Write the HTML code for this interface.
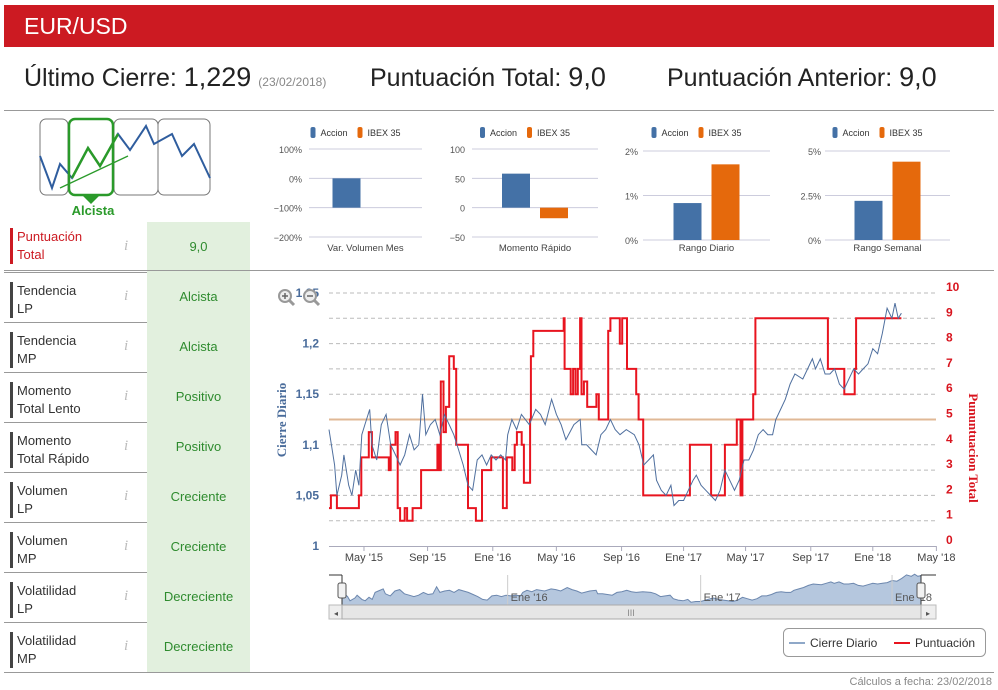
<!DOCTYPE html>
<html><head><meta charset="utf-8">
<style>
body{margin:0;width:998px;height:690px;background:#fff;font-family:"Liberation Sans",sans-serif;position:relative;overflow:hidden}
.abs{position:absolute}
.hdr{left:4px;top:5px;width:990px;height:42px;background:#cc1a22;color:#fff;font-size:23px;line-height:42px;padding-left:20px;box-sizing:border-box}
.big{top:62px;font-size:25px;color:#222;white-space:nowrap}
.big b{font-weight:normal;font-size:27px}
.row{left:4px;width:246px;height:50px;border-bottom:1px solid #999}
.row .lab{position:absolute;left:6px;top:10px;font-size:13px;line-height:18px;color:#333;border-left:3px solid #444;padding-left:4px;height:36px}
.row .inf{position:absolute;left:120px;top:16px;color:#bbb;font-style:italic;font-family:"Liberation Serif",serif;font-size:15px}
.row .val{position:absolute;left:143px;top:0;width:103px;height:50px;background:#e2f0de;color:#2e8b2e;font-size:13px;text-align:center;line-height:50px}
</style></head><body>
<div class="abs hdr">EUR/USD</div>
<div class="abs big" style="left:24px">Último Cierre: <b>1,229</b> <span style="font-size:12px;color:#888">(23/02/2018)</span></div>
<div class="abs big" style="left:370px">Puntuación Total: <b>9,0</b></div>
<div class="abs big" style="left:667px">Puntuación Anterior: <b>9,0</b></div>
<div class="abs" style="left:4px;top:110px;width:990px;height:1px;background:#999"></div>
<div class="abs" style="left:4px;top:672px;width:990px;height:1px;background:#999"></div>
<div class="abs" style="right:6px;top:676px;font-size:11px;color:#888">Cálculos a fecha: 23/02/2018</div>

<svg class="abs" style="left:38px;top:116px" width="176" height="104">
<rect x="2" y="3" width="28" height="76" rx="6" fill="#fff" stroke="#777"/>
<rect x="76" y="3" width="44" height="76" rx="6" fill="#fff" stroke="#777"/>
<rect x="120" y="3" width="52" height="76" rx="6" fill="#fff" stroke="#777"/>
<polyline points="2,40 14,72 22,48 34,62 50,32 62,50 80,18 92,34 108,10 116,28 134,18 144,40 156,28 172,62" fill="none" stroke="#2f5d9e" stroke-width="2"/>
<rect x="31" y="3" width="44" height="76" rx="6" fill="none" stroke="#2a9a2a" stroke-width="2.5"/>
<polyline points="34,62 50,32 62,50 80,18" fill="none" stroke="#2a9a2a" stroke-width="2.5"/>
<line x1="22" y1="72" x2="90" y2="40" stroke="#2a9a2a" stroke-width="1.3"/>
<path d="M44,79 L53,88 L62,79Z" fill="#2a9a2a"/>
<text x="55" y="99" text-anchor="middle" font-size="13" font-weight="bold" fill="#2a9a2a">Alcista</text>
</svg>

<div class="abs row" style="top:222px"><div class="lab" style="border-color:#cc1a22;color:#cc1a22;top:6px">Puntuación<br>Total</div><div class="inf">i</div><div class="val">9,0</div></div>
<div class="abs row" style="top:272px"><div class="lab">Tendencia<br>LP</div><div class="inf">i</div><div class="val">Alcista</div></div>
<div class="abs row" style="top:322px"><div class="lab">Tendencia<br>MP</div><div class="inf">i</div><div class="val">Alcista</div></div>
<div class="abs row" style="top:372px"><div class="lab">Momento<br>Total Lento</div><div class="inf">i</div><div class="val">Positivo</div></div>
<div class="abs row" style="top:422px"><div class="lab">Momento<br>Total Rápido</div><div class="inf">i</div><div class="val">Positivo</div></div>
<div class="abs row" style="top:472px"><div class="lab">Volumen<br>LP</div><div class="inf">i</div><div class="val">Creciente</div></div>
<div class="abs row" style="top:522px"><div class="lab">Volumen<br>MP</div><div class="inf">i</div><div class="val">Creciente</div></div>
<div class="abs row" style="top:572px"><div class="lab">Volatilidad<br>LP</div><div class="inf">i</div><div class="val">Decreciente</div></div>
<div class="abs row" style="top:622px;border-bottom:none"><div class="lab">Volatilidad<br>MP</div><div class="inf">i</div><div class="val">Decreciente</div></div>
<div class="abs" style="left:4px;top:270px;width:990px;height:1px;background:#999"></div>

<svg id="main" class="abs" style="left:0;top:0" width="998" height="690"></svg>

<script>
// ---- small bar charts data ----
const miniTitles = ["Var. Volumen Mes","Momento Rápido","Rango Diario","Rango Semanal"];
const miniAccion = [-100, 58, 0.83, 2.2];
const miniIbex = [0, -18, 1.7, 4.4];
const miniTicks1 = [100,0,-100,-200];
const miniTickLabels1 = ["100%","0%","\u2212100%","\u2212200%"];
const miniTicks2 = [100,50,0,-50];
const miniTickLabels2 = ["100","50","0","\u221250"];
const miniTicks3 = [2,1,0];
const miniTickLabels3 = ["2%","1%","0%"];
const miniTicks4 = [5,2.5,0];
const miniTickLabels4 = ["5%","2.5%","0%"];

// ---- main chart data (months since 23/02/2015) ----
const priceT = [0,.35,.5,.8,.94,1.24,1.44,1.68,1.88,2.06,2.26,2.56,2.7,3.0,3.29,3.59,3.88,4.18,4.47,4.76,5.06,5.35,5.65,5.88,6.09,6.38,6.68,6.97,7.26,7.56,7.85,8.15,8.44,8.74,9.03,9.32,9.62,9.91,10.2,10.5,10.8,11.1,11.24,11.5,11.8,12.1,12.6,13.0,13.3,13.6,14.0,14.3,14.6,14.9,15.4,15.8,15.9,16.2,16.5,16.8,17.1,17.4,17.7,18.0,18.3,18.7,19.2,19.5,19.8,20.1,20.4,20.6,20.9,21.2,21.5,21.7,22.0,22.3,22.6,22.9,23.1,23.4,23.7,24.0,24.3,24.6,24.9,25.2,25.5,25.8,26.1,26.4,26.7,27.0,27.3,27.6,27.9,28.1,28.4,28.7,29.0,29.3,29.8,30.1,30.4,30.6,30.9,31.2,31.5,31.8,32.1,32.4,32.7,33.0,33.3,33.6,33.9,34.2,34.5,34.8,35.1,35.4,35.6,35.8,36.0];
const priceV = [1.115,1.08,1.05,1.07,1.09,1.06,1.05,1.075,1.06,1.11,1.12,1.135,1.10,1.085,1.12,1.13,1.10,1.09,1.08,1.09,1.11,1.095,1.10,1.15,1.11,1.12,1.125,1.11,1.13,1.12,1.11,1.095,1.08,1.06,1.055,1.085,1.09,1.08,1.09,1.085,1.09,1.085,1.11,1.125,1.115,1.13,1.12,1.135,1.13,1.12,1.145,1.13,1.12,1.105,1.12,1.125,1.10,1.10,1.095,1.09,1.11,1.115,1.125,1.115,1.11,1.115,1.11,1.10,1.08,1.085,1.09,1.065,1.055,1.05,1.06,1.04,1.045,1.045,1.055,1.065,1.07,1.06,1.055,1.05,1.045,1.055,1.075,1.065,1.055,1.065,1.085,1.085,1.095,1.11,1.115,1.11,1.11,1.125,1.135,1.145,1.16,1.17,1.165,1.175,1.185,1.175,1.185,1.17,1.17,1.175,1.16,1.155,1.165,1.175,1.17,1.175,1.18,1.195,1.19,1.21,1.235,1.225,1.24,1.225,1.23];
const scoreT = [0,.12,.5,1.88,2.03,2.5,2.7,3.76,3.88,4.18,4.32,4.47,4.76,4.91,5.26,5.79,6.82,6.91,7.03,7.2,7.35,7.56,7.85,8.0,8.74,9.24,9.62,10.2,10.94,11.18,11.53,11.68,11.82,12.12,12.26,12.65,12.7,12.85,14.76,14.82,15.2,15.35,15.5,15.65,15.79,15.88,16.03,16.24,16.82,16.97,17.56,17.7,18.29,18.44,18.74,19.32,19.47,19.76,22.7,24.03,24.9,25.65,25.88,26.0,26.68,26.82,31.38,32.41,33.06,33.15,36.0];
const scoreV = [1.5,2,1.5,2,3.5,4.5,3.5,3,4,4.5,1.5,1,1.5,1,1.5,3,4,3,6.5,4.5,5.5,7.5,7,4,1.5,1,3,3.5,1.5,3.5,3,4,4.5,4,2.5,5,7.5,8.5,9,7,6,7,6,7,9,6,6.5,5.5,6,5,8.5,9,8,9,7,6,5,2,4,2,4,5,2,5,6,9,7,6,7,9,9];
const xTickT = [2.2,6.2,10.3,14.3,18.4,22.3,26.2,30.3,34.2,38.2];
const xTickLabels = ["May '15","Sep '15","Ene '16","May '16","Sep '16","Ene '17","May '17","Sep '17","Ene '18","May '18"];
const yTicks = [1,1.05,1.1,1.15,1.2,1.25];
const yTickLabels = ["1","1,05","1,1","1,15","1,2","1,25"];
const y2Ticks = [0,1,2,3,4,5,6,7,8,9,10];

const NS="http://www.w3.org/2000/svg";
const svg=document.getElementById('main');
function mk(tag,attrs,parent,txt){const e=document.createElementNS(NS,tag);for(const k in attrs)e.setAttribute(k,attrs[k]);if(txt!==undefined)e.textContent=txt;(parent||svg).appendChild(e);return e;}

// mini charts
const miniLayout=[{x0:309,x1:422,top:149,bot:237,ticks:miniTicks1,labs:miniTickLabels1,lx:302},
{x0:472,x1:598,top:149,bot:237,ticks:miniTicks2,labs:miniTickLabels2,lx:465},
{x0:643,x1:770,top:151,bot:240,ticks:miniTicks3,labs:miniTickLabels3,lx:638},
{x0:825,x1:950,top:151,bot:240,ticks:miniTicks4,labs:miniTickLabels4,lx:821}];
miniLayout.forEach((L,i)=>{
  const g=mk('g',{});
  
  
  const tmax=L.ticks[0],tmin=L.ticks[L.ticks.length-1];
  const ys=v=>L.top+(tmax-v)/(tmax-tmin)*(L.bot-L.top);
  L.ticks.forEach((t,k)=>{
    mk('line',{x1:L.x0,x2:L.x1,y1:ys(t),y2:ys(t),stroke:'#ccd',"stroke-width":1},g);
    const tx=mk('text',{x:L.lx,y:ys(t)+4,"text-anchor":"end","font-size":9,fill:'#555'},g,L.labs[k]);
    
    
  });
  const cx=(L.x0+L.x1)/2;
  const z=ys(0);
  const a=miniAccion[i], b=miniIbex[i];
  const r1=mk('rect',{x:cx-33,width:28,y:Math.min(ys(a),z),height:Math.abs(ys(a)-z),fill:'#4471a6'},g);
  
  
  const r2=mk('rect',{x:cx+5,width:28,y:Math.min(ys(b),z),height:Math.abs(ys(b)-z),fill:'#e5690c'},g);
  
  
  const tt=mk('text',{x:cx,y:251,"text-anchor":"middle","font-size":9.5,fill:'#444'},g,miniTitles[i]);
  
  
  const lg=mk('g',{},g);
  
  
  mk('rect',{x:cx-55,y:127,width:5,height:11,rx:2,fill:'#4471a6'},lg);
  mk('text',{x:cx-45,y:136,"font-size":9,fill:'#333'},lg,'Accion');
  mk('rect',{x:cx-8,y:127,width:5,height:11,rx:2,fill:'#e5690c'},lg);
  mk('text',{x:cx+2,y:136,"font-size":9,fill:'#333'},lg,'IBEX 35');
});

// main chart
const X0=329,PXM=15.9;
const xs=t=>X0+t*PXM;
const yp=p=>546-(p-1)*1012;
const ysc=s=>546-s*25.3;
const mg=mk('g',{});


y2Ticks.forEach(t=>{
  if(t===0)return;
  mk('line',{x1:329,x2:936,y1:ysc(t),y2:ysc(t),stroke:'#bbb',"stroke-dasharray":"4,3"},mg);
});
y2Ticks.forEach(t=>{
  const tx=mk('text',{x:946,y:ysc(t)-2,"font-size":12,"font-weight":"bold",fill:'#d8141e'},mg,String(t));
  
  
});
yTicks.forEach((t,k)=>{
  const tx=mk('text',{x:319,y:yp(t)+4,"text-anchor":"end","font-size":12,"font-weight":"bold",fill:'#4a6c9b'},mg,yTickLabels[k]);
  
  
});
mk('line',{x1:329,x2:936,y1:546.5,y2:546.5,stroke:'#aab'},mg);
xTickT.forEach((t,k)=>{
  mk('line',{x1:xs(t),x2:xs(t),y1:546,y2:551,stroke:'#aab'},mg);
  const tx=mk('text',{x:xs(t),y:561,"text-anchor":"middle","font-size":11,fill:'#444'},mg,xTickLabels[k]);
  
  
});
const ref=mk('line',{x1:329,x2:936,y1:ysc(5),y2:ysc(5),stroke:'#e0b896',"stroke-width":2},mg);


let sp='';
scoreV.forEach((v,i)=>{ if(i>0) sp+=xs(scoreT[i]).toFixed(1)+','+ysc(scoreV[i-1]).toFixed(1)+' '; sp+=xs(scoreT[i]).toFixed(1)+','+ysc(v).toFixed(1)+' '; });
const sl=mk('polyline',{points:sp,fill:'none',stroke:'#e8141f',"stroke-width":2},mg);


const pp=priceV.map((v,i)=>xs(priceT[i]).toFixed(1)+','+yp(v).toFixed(1)).join(' ');
const pl=mk('polyline',{points:pp,fill:'none',stroke:'#4f6f9e',"stroke-width":1},mg);


const yt=mk('text',{transform:'translate(286,420) rotate(-90)',"text-anchor":"middle","font-size":13,"font-weight":"bold","font-family":"Liberation Serif, serif",fill:'#4a6c9b'},mg,'Cierre Diario');


const yt2=mk('text',{transform:'translate(969,448) rotate(90)',"text-anchor":"middle","font-size":13,"font-weight":"bold","font-family":"Liberation Serif, serif",fill:'#d8141e'},mg,'Pununtuacion Total');


// zoom icons
[285,310].forEach((cx,k)=>{
  const zg=mk('g',{},mg);
  
  
  mk('circle',{cx:cx,cy:296,r:6,fill:'#eee',stroke:'#999',"stroke-width":2},zg);
  mk('line',{x1:cx+4,y1:300,x2:cx+9,y2:305,stroke:'#999',"stroke-width":3},zg);
  mk('line',{x1:cx-3,y1:296,x2:cx+3,y2:296,stroke:'#666',"stroke-width":1.5},zg);
  if(!k) mk('line',{x1:cx,y1:293,x2:cx,y2:299,stroke:'#666',"stroke-width":1.5},zg);
});
// navigator
const nav=mk('g',{});


const nx=t=>342+t*(921-342)/36;
const ny=p=>605-(p-1.02)*140;
let np='342,605 '+priceV.map((v,i)=>nx(priceT[i]).toFixed(1)+','+ny(v).toFixed(1)).join(' ')+' 921,605';
mk('polygon',{points:np,fill:'#b5c7de',stroke:'#6c87ae',"stroke-width":1},nav);
[10.3,22.3,34.2].forEach((t,k)=>{
  mk('line',{x1:nx(t),x2:nx(t),y1:575,y2:605,stroke:'#ccc'},nav);
  mk('text',{x:nx(t)+3,y:601,"font-size":11,fill:'#555'},nav,["Ene '16","Ene '17","Ene '18"][k]);
});
mk('line',{x1:329,x2:342,y1:575,y2:575,stroke:'#333'},nav);
mk('line',{x1:921,x2:936,y1:575,y2:575,stroke:'#333'},nav);
[342,921].forEach(x=>{mk('line',{x1:x,x2:x,y1:575,y2:605,stroke:'#333'},nav);mk('rect',{x:x-4,y:583,width:8,height:15,rx:2,fill:'#f2f2f2',stroke:'#555'},nav);});
const sb=mk('g',{});


mk('rect',{x:329,y:605,width:607,height:14,fill:'#eee',stroke:'#bbb'},sb);
mk('rect',{x:342,y:605,width:579,height:14,fill:'#e6e6e6',stroke:'#aaa'},sb);
mk('text',{x:631,y:616,"text-anchor":"middle","font-size":9,fill:'#888'},sb,'III');
mk('text',{x:334,y:616,"font-size":8,fill:'#555'},sb,'◂');
mk('text',{x:926,y:616,"font-size":8,fill:'#555'},sb,'▸');
// legend
const lg=mk('g',{});


mk('rect',{x:783.5,y:628.5,width:202,height:28,rx:5,fill:'#fff',stroke:'#999'},lg);
mk('line',{x1:789,x2:805,y1:643,y2:643,stroke:'#8fa8c8',"stroke-width":2},lg);
mk('text',{x:810,y:647,"font-size":12,fill:'#333'},lg,'Cierre Diario');
mk('line',{x1:894,x2:910,y1:643,y2:643,stroke:'#e8141f',"stroke-width":2},lg);
mk('text',{x:915,y:647,"font-size":12,fill:'#333'},lg,'Puntuación');
</script>
</body></html>
